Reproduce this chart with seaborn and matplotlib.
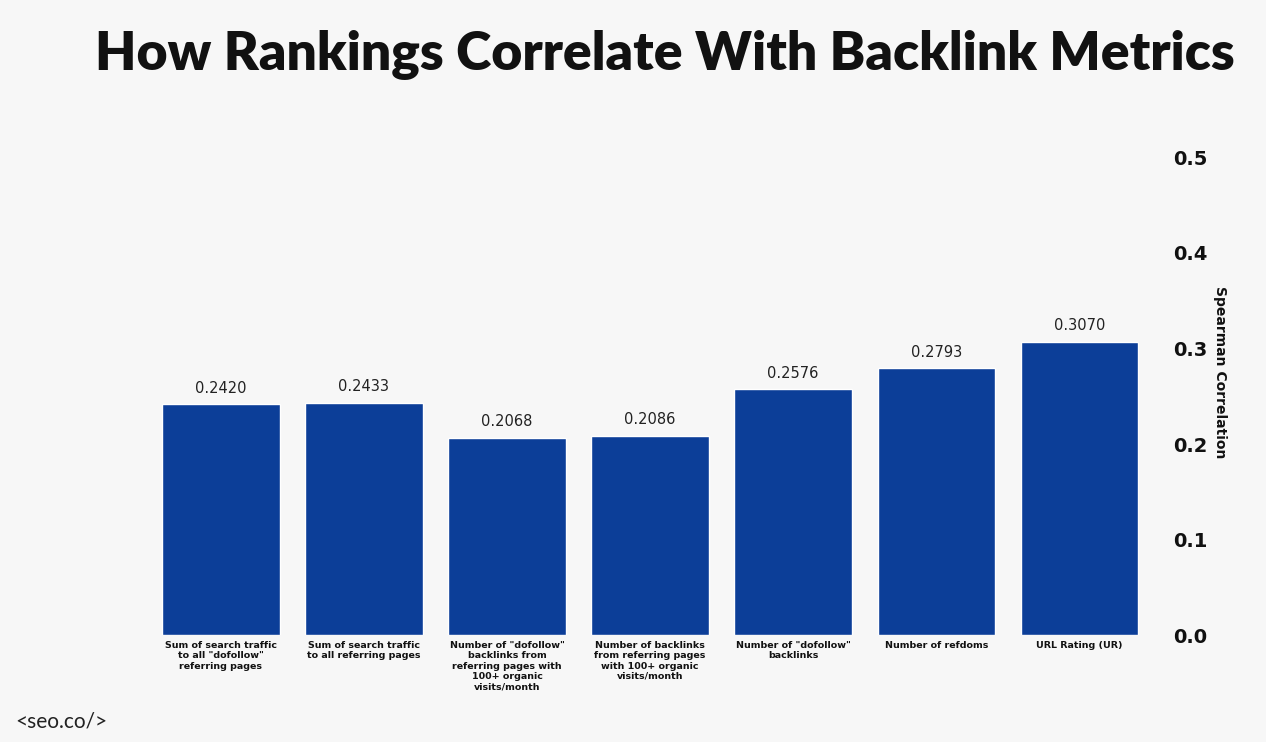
import matplotlib
matplotlib.use("Agg")
import matplotlib.pyplot as plt
import pandas as pd
import seaborn as sns

# chart data
metrics = [
    'Sum of search traffic\nto all "dofollow"\nreferring pages',
    'Sum of search traffic\nto all referring pages',
    'Number of "dofollow"\nbacklinks from\nreferring pages with\n100+ organic\nvisits/month',
    'Number of backlinks\nfrom referring pages\nwith 100+ organic\nvisits/month',
    'Number of "dofollow"\nbacklinks',
    'Number of refdoms',
    'URL Rating (UR)',
]
correlations = [0.2420, 0.2433, 0.2068, 0.2086, 0.2576, 0.2793, 0.3070]
y_ticks = [0.0, 0.1, 0.2, 0.3, 0.4, 0.5]

bg = '#f7f7f7'
bar_color = '#0c3e98'

sns.set_theme(style='white')
plt.rcParams['font.family'] = ['Lato', 'DejaVu Sans']

data_df = pd.DataFrame({'metric': metrics, 'corr': correlations})

fig = plt.figure(figsize=(12.66, 7.42), dpi=100, facecolor=bg)
ax = fig.add_axes([0.118, 0.144, 0.791, 0.644], facecolor=bg)

sns.barplot(data=data_df, x='metric', y='corr', color=bar_color,
            saturation=1, width=0.82, ax=ax)

# value labels above the bars
for i, v in enumerate(correlations):
    ax.annotate(f'{v:.4f}', (i, v), xytext=(0, 6), textcoords='offset points',
                ha='center', va='bottom', fontsize=10.5, color='#222222',
                family=['DejaVu Sans'])

ax.set_xlim(-0.5, len(metrics) - 0.5)
ax.set_ylim(0, 0.5)
ax.yaxis.tick_right()
ax.yaxis.set_label_position('right')
ax.set_yticks(y_ticks)
ax.set_yticklabels([f'{t:.1f}' for t in y_ticks], fontsize=14,
                   fontweight='bold', color='#111111', family=['DejaVu Sans'])
ax.tick_params(axis='y', length=0, pad=16)
ax.tick_params(axis='x', length=0, pad=4)
ax.set_xticks(range(len(metrics)))
ax.set_xticklabels(metrics, fontsize=6.8, fontweight='bold', color='#111111',
                   linespacing=1.2, va='top', ha='center',
                   family=['DejaVu Sans'])
ax.set_xlabel('')
ax.set_ylabel('Spearman Correlation', rotation=270, labelpad=12,
              fontsize=10, fontweight='bold', color='#111111',
              family=['DejaVu Sans'])
ax.yaxis.set_label_coords(1.076, 0.55)
sns.despine(ax=ax, left=True, bottom=True, right=True, top=True)

fig.text(0.075, 0.926, 'How Rankings Correlate With Backlink Metrics',
         fontsize=38.5, fontweight='heavy', color='#111111', ha='left',
         va='center')
fig.text(0.012, 0.027, '<seo.co/>', fontsize=15, color='#222222',
         ha='left', va='center')

fig.savefig('out.png', dpi=100, facecolor=bg)
plt.close(fig)
